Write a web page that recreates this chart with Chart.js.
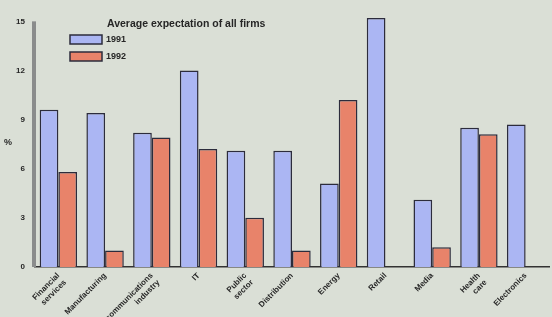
<!DOCTYPE html>
<html><head><meta charset="utf-8">
<script src="https://cdn.jsdelivr.net/npm/chart.js@4/dist/chart.umd.min.js"></script>
<style>html,body{margin:0;padding:0;background:#dadfd6;}#wrap{width:552px;height:317px;}</style>
</head><body><div id="wrap"><canvas id="c" width="552" height="317"></canvas></div>
<script>
const categories = [["Financial","services"],"Manufacturing",["Telecommunications","industry"],"IT",["Public","sector"],"Distribution","Energy","Retail","Media",["Health","care"],"Electronics"];
const values1991 = [9.6, 9.4, 8.2, 12.0, 7.1, 7.1, 5.1, 15.2, 4.1, 8.5, 8.7];
const values1992 = [5.8, 1.0, 7.9, 7.2, 3.0, 1.0, 10.2, null, 1.2, 8.1, null];
const seriesNames = ["1991", "1992"];
const yTicks = [0, 3, 6, 9, 12, 15];
const legendTitle = "Average expectation of all firms";
const blue = "#abb6f3", red = "#e8836a", edge = "#2c2c3c";

const deco = {
  id: 'deco',
  beforeDraw(chart) {
    const ctx = chart.ctx;
    ctx.save(); ctx.fillStyle = "#dadfd6"; ctx.fillRect(0,0,chart.width,chart.height); ctx.restore();
  },
  beforeDatasetsDraw(chart) {
    const ctx = chart.ctx, y = chart.scales.y, a = chart.chartArea;
    ctx.save();
    ctx.strokeStyle = "#8a8c8c"; ctx.lineWidth = 4;
    ctx.beginPath();
    ctx.moveTo(a.left - 1, y.getPixelForValue(yTicks[yTicks.length - 1]));
    ctx.lineTo(a.left - 1, y.getPixelForValue(0));
    ctx.stroke();
    ctx.restore();
  },
  afterDraw(chart) {
    const ctx = chart.ctx;
    ctx.save();
    ctx.fillStyle = "#262626";
    ctx.font = "bold 9px 'Liberation Sans', Arial, sans-serif";
    ctx.textBaseline = "middle";
    ctx.fillText("%", 4, 143);
    ctx.font = "bold 10.5px 'Liberation Sans', Arial, sans-serif";
    ctx.fillText(legendTitle, 107, 24);
    ctx.font = "bold 9px 'Liberation Sans', Arial, sans-serif";
    const cols = [blue, red];
    const ys = [35, 52];
    for (let i = 0; i < 2; i++) {
      ctx.fillStyle = cols[i]; ctx.strokeStyle = edge; ctx.lineWidth = 1.5;
      ctx.fillRect(70, ys[i], 32, 9); ctx.strokeRect(70, ys[i], 32, 9);
      ctx.fillStyle = "#262626";
      ctx.fillText(seriesNames[i], 106, ys[i] + 5);
    }
    ctx.restore();
  }
};

new Chart(document.getElementById('c'), {
  type: 'bar',
  data: {
    labels: categories,
    datasets: [
      { label: seriesNames[0], data: values1991, backgroundColor: blue, borderColor: edge, borderWidth: 1.5, borderSkipped: 'bottom' },
      { label: seriesNames[1], data: values1992, backgroundColor: red, borderColor: edge, borderWidth: 1.5, borderSkipped: 'bottom' }
    ]
  },
  options: {
    responsive: false, animation: false,
    layout: { padding: { top: 13, right: 3, left: 0, bottom: 0 } },
    plugins: { legend: { display: false }, tooltip: { enabled: false } },
    datasets: { bar: { categoryPercentage: 0.8, barPercentage: 1.0 } },
    scales: {
      x: {
        grid: { display: false, drawTicks: false },
        border: { color: "#333", width: 1.5 },
        ticks: { minRotation: 45, maxRotation: 45, autoSkip: false, padding: 4,
                 font: { family: "'Liberation Sans', Arial, sans-serif", size: 8, weight: 'bold' }, color: "#262626" },
        afterFit(s) { s.height = 50; }
      },
      y: {
        min: 0, max: 15.4,
        grid: { display: false, drawTicks: false },
        border: { display: false },
        afterBuildTicks(s) { s.ticks = yTicks.map(v => ({ value: v })); },
        ticks: { padding: 10, font: { family: "'Liberation Sans', Arial, sans-serif", size: 8, weight: 'bold' }, color: "#262626" },
        afterFit(s) { s.width = 35; }
      }
    }
  },
  plugins: [deco]
});
</script></body></html>
